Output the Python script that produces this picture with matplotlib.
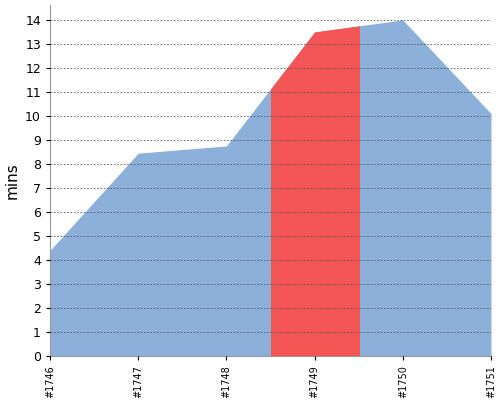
import matplotlib
matplotlib.use("Agg")
import matplotlib.pyplot as plt
from matplotlib.patches import Rectangle

builds = ["#1746", "#1747", "#1748", "#1749", "#1750", "#1751"]
mins = [4.4, 8.45, 8.75, 13.5, 14.0, 10.1]
highlight = 3  # build #1749 highlighted

fig, ax = plt.subplots(figsize=(5, 4), dpi=100)
fig.subplots_adjust(left=0.1, right=0.982, top=0.988, bottom=0.11)

x = list(range(len(builds)))
ax.fill_between(x, 0, mins, color="#8cb0d9", lw=0)
red = ax.fill_between(x, 0, mins, color="#f45555", lw=0)
clip = Rectangle((highlight - 0.5, 0), 1, 100, transform=ax.transData)
red.set_clip_path(clip)

ax.set_xlim(0, len(builds) - 1)
ax.set_ylim(0, 14.63)
ax.set_yticks(range(15))
ax.set_xticks(x)
ax.set_xticklabels(builds, rotation=90, fontsize=7)
ax.tick_params(axis="y", labelsize=9, length=3)
ax.tick_params(axis="x", length=3)
ax.yaxis.grid(True, linestyle=(0, (2, 2)), color="#555555", lw=0.6)
ax.set_axisbelow(False)
ax.set_ylabel("mins", fontsize=11)
for s in ["top", "right"]:
    ax.spines[s].set_visible(False)
for s in ["left", "bottom"]:
    ax.spines[s].set_color("#999999")

fig.savefig("out.png")
